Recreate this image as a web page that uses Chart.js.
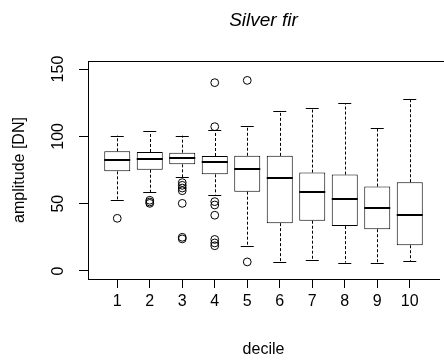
<!DOCTYPE html>
<html>
<head>
<meta charset="utf-8">
<script src="https://cdn.jsdelivr.net/npm/chart.js@4/dist/chart.umd.min.js"></script>
<style>
  html, body { margin: 0; padding: 0; background: #fff; }
  #wrap { width: 444px; height: 362px; }
</style>
</head>
<body>
<div id="wrap"><canvas id="c" width="444" height="362"></canvas></div>
<script>
// ---- data ----
const deciles = [1, 2, 3, 4, 5, 6, 7, 8, 9, 10];
const upperWhisker = [100.5, 103.7, 100.5, 104.5, 107.4, 119.0, 121.3, 124.7, 106.5, 127.8];
const q3Values     = [88.9, 88.4, 87.9, 85.4, 85.6, 85.5, 73.1, 71.6, 62.7, 65.9];
const medianValues = [82.2, 82.9, 84.2, 80.7, 75.7, 68.9, 58.9, 53.4, 47.0, 41.9];
const q1Values     = [74.0, 75.2, 79.2, 71.8, 58.9, 35.5, 37.3, 33.3, 31.0, 19.1];
const lowerWhisker = [53.0, 58.4, 69.8, 56.7, 18.8, 6.7, 7.9, 6.2, 5.8, 7.4];
const outlierDecile = [1, 2, 2, 2, 3, 3, 3, 3, 3, 3, 3, 4, 4, 4, 4, 4, 4, 4, 4, 5, 5];
const outlierValue  = [39.1, 52.5, 51.2, 50.2, 65.6, 63.6, 61.6, 59.6, 50.2, 25.0, 23.8,
                       139.9, 107.2, 51.5, 49.0, 41.4, 23.4, 20.8, 18.7, 141.6, 6.7];
const yTickValues = [0, 50, 100, 150];
const chartTitle = 'Silver fir';
const xTitle = 'decile';
const yTitle = 'amplitude [DN]';

const FONT = '"Liberation Sans", Arial, Helvetica, sans-serif';

const boxData = deciles.map((d, i) => ({ x: d, y: [q1Values[i], q3Values[i]] }));
const outlierData = outlierDecile.map((d, i) => ({ x: d, y: outlierValue[i] }));

const boxExtras = {
  id: 'boxExtras',
  afterDatasetsDraw(chart) {
    const { ctx, scales: { x, y } } = chart;
    ctx.save();
    ctx.strokeStyle = '#000';
    deciles.forEach((d, i) => {
      const cx0 = Math.round(x.getPixelForValue(d)) + 0.5;
      // dashed whiskers
      ctx.lineWidth = 1;
      ctx.setLineDash([3, 2]);
      ctx.beginPath();
      ctx.moveTo(cx0, y.getPixelForValue(q3Values[i]));
      ctx.lineTo(cx0, y.getPixelForValue(upperWhisker[i]));
      ctx.moveTo(cx0, y.getPixelForValue(q1Values[i]));
      ctx.lineTo(cx0, y.getPixelForValue(lowerWhisker[i]));
      ctx.stroke();
      ctx.setLineDash([]);
      // whisker caps
      const capL = x.getPixelForValue(d - 0.2), capR = x.getPixelForValue(d + 0.2);
      ctx.beginPath();
      [upperWhisker[i], lowerWhisker[i]].forEach(v => {
        const py = Math.round(y.getPixelForValue(v)) + 0.5;
        ctx.moveTo(capL, py); ctx.lineTo(capR, py);
      });
      ctx.stroke();
      // median
      ctx.lineWidth = 2;
      ctx.beginPath();
      const my = Math.round(y.getPixelForValue(medianValues[i]));
      ctx.moveTo(x.getPixelForValue(d - 0.4), my);
      ctx.lineTo(x.getPixelForValue(d + 0.4), my);
      ctx.stroke();
    });
    ctx.restore();
  },
  afterDraw(chart) {
    const { ctx, chartArea } = chart;
    ctx.save();
    ctx.strokeStyle = '#000';
    ctx.lineWidth = 1;
    ctx.beginPath();
    ctx.moveTo(chartArea.left + 0.5, Math.round(chartArea.top) + 0.5);
    ctx.lineTo(chartArea.right + 5, Math.round(chartArea.top) + 0.5);
    ctx.stroke();
    ctx.restore();
  }
};

new Chart(document.getElementById('c'), {
  type: 'bar',
  data: {
    datasets: [
      {
        type: 'bar',
        label: 'box',
        data: boxData,
        backgroundColor: '#ffffff',
        borderColor: '#000000',
        borderWidth: 1,
        borderSkipped: false,
        inflateAmount: 0,
        barPercentage: 0.8,
        categoryPercentage: 1.0,
        order: 2
      },
      {
        type: 'scatter',
        label: 'outliers',
        data: outlierData,
        pointStyle: 'circle',
        pointRadius: 3.9,
        pointBorderWidth: 1,
        pointBorderColor: '#000',
        pointBackgroundColor: 'rgba(0,0,0,0)',
        showLine: false,
        order: 1
      }
    ]
  },
  options: {
    responsive: false,
    animation: false,
    events: [],
    layout: { padding: { left: 0, right: -3, top: 0, bottom: 0 } },
    plugins: {
      legend: { display: false },
      tooltip: { enabled: false },
      title: {
        display: true,
        text: chartTitle,
        fullSize: false,
        color: '#000',
        font: { family: FONT, size: 19, style: 'italic', weight: 'normal', lineHeight: 1.2 },
        padding: { top: 9.5, bottom: 28.7 }
      }
    },
    scales: {
      x: {
        type: 'linear',
        min: 0.1,
        max: 10.9,
        offset: false,
        afterBuildTicks: s => { s.ticks = deciles.map(v => ({ value: v })); },
        afterFit: s => { s.height = 83; },
        grid: { display: true, drawOnChartArea: false, drawTicks: true, tickLength: 9, color: '#000', offset: false },
        border: { display: true, color: '#000', width: 1 },
        ticks: {
          color: '#000',
          padding: 4,
          autoSkip: false,
          maxRotation: 0,
          font: { family: FONT, size: 16 },
          callback: v => String(v)
        },
        title: {
          display: true,
          text: xTitle,
          color: '#000',
          font: { family: FONT, size: 16, lineHeight: 1.2 },
          padding: { top: 0, bottom: 3 }
        }
      },
      y: {
        type: 'linear',
        min: -6,
        max: 156,
        afterBuildTicks: s => { s.ticks = yTickValues.map(v => ({ value: v })); },
        afterFit: s => { s.width = 88; },
        grid: { display: true, drawOnChartArea: false, drawTicks: true, tickLength: 9, color: '#000' },
        border: { display: true, color: '#000', width: 1 },
        ticks: {
          color: '#000',
          padding: 7,
          minRotation: 90,
          maxRotation: 90,
          crossAlign: 'center',
          font: { family: FONT, size: 16 },
          callback: v => String(v)
        },
        title: {
          display: true,
          text: yTitle,
          color: '#000',
          font: { family: FONT, size: 16, lineHeight: 1.2 },
          padding: { top: 9.5, bottom: 0 }
        }
      }
    }
  },
  plugins: [boxExtras]
});
</script>
</body>
</html>
